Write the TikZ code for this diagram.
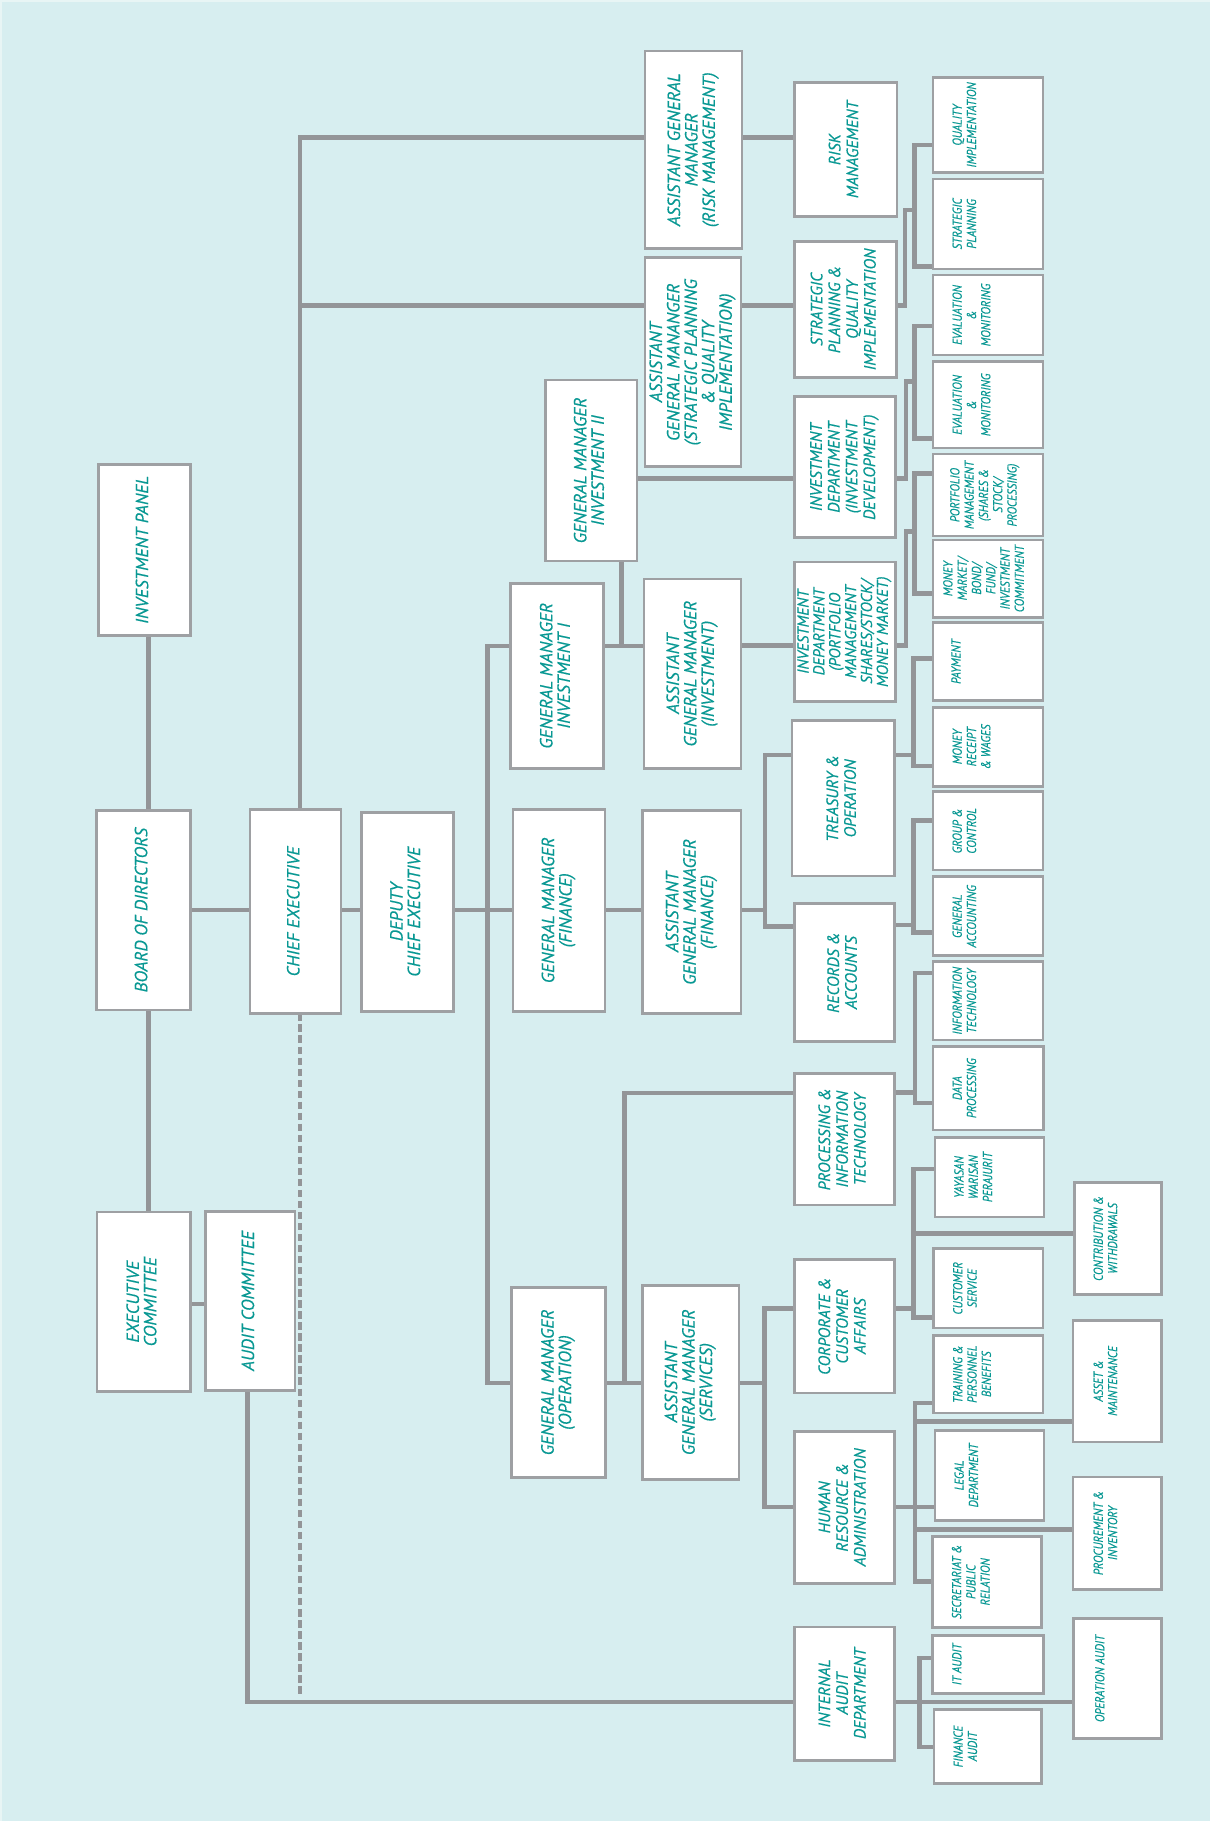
\documentclass[tikz,border=0pt]{standalone}
\usepackage{fontspec}
\usepackage{graphicx}
\newfontfamily\ptA[FakeBold=0.35]{PT Sans}
\newfontfamily\ptF[FakeStretch=0.98,FakeBold=0.35]{PT Sans}
\newfontfamily\ptG[FakeStretch=0.87,FakeBold=0.3]{PT Sans}
\definecolor{bgc}{RGB}{215,238,240}
\definecolor{edgec}{RGB}{232,245,245}
\definecolor{linec}{RGB}{147,149,152}
\definecolor{boxc}{RGB}{158,160,163}
\definecolor{txtc}{RGB}{8,152,147}
\pgfdeclarelayer{bgzero}
\pgfdeclarelayer{lines}
\pgfsetlayers{bgzero,lines,main}
\tikzset{
 bx/.style={draw=boxc, fill=white, line width=2.3pt, inner sep=0pt, outer sep=0pt, text=txtc},
 colA/.style={bx, font=\ptA\itshape\fontsize{15.2}{14}\selectfont},
 colF/.style={bx, font=\ptF\itshape\fontsize{14.2}{15.3}\selectfont},
 colP/.style={bx, font=\ptF\itshape\fontsize{13.6}{13.3}\selectfont},
 colG/.style={bx, font=\ptG\itshape\fontsize{11.2}{12.3}\selectfont},
 ln/.style={draw=linec, line width=4pt},
 dln/.style={draw=linec, line width=3pt, dash pattern=on 6.3pt off 3.2pt},
}
% style, name, x1, y1, x2, y2, text
\newcommand\cbox[7]{%
 \node[#1, minimum width={#5-#3}, minimum height={#6-#4}] (#2) at ({(#3+#5)/2},{(#4+#6)/2})
 {\rotatebox{90}{\begin{tabular}{@{}c@{}}#7\end{tabular}}};}
% style, name, x1, y1, x2, y2, pad, text
\newcommand\lbox[8]{%
 \node[#1, minimum width={#5-#3}, minimum height={#6-#4}] (#2) at ({(#3+#5)/2},{(#4+#6)/2})
 {\makebox[\dimexpr #5pt-#3pt\relax][l]{\hspace*{#7pt}\rotatebox{90}{\begin{tabular}{@{}c@{}}#8\end{tabular}}}};}
\begin{document}
\begin{tikzpicture}[x=1pt,y=-1pt]
\useasboundingbox (0,0) rectangle (1042,1568);
\begin{pgfonlayer}{bgzero}
\fill[bgc] (0,0) rectangle (1042,1568);
\fill[edgec] (0,0) rectangle (1042,1.3);
\fill[edgec] (0,0) rectangle (1.8,1568);
\end{pgfonlayer}
% column A-E
\cbox{colA}{ip}{84.6}{399.7}{164}{547.4}{INVESTMENT PANEL}
\cbox{colA}{bod}{83}{697.6}{164}{869.8}{BOARD OF DIRECTORS}
\cbox{colA}{exc}{83.6}{1043.6}{164}{1198.2}{EXECUTIVE\\COMMITTEE}
\cbox{colA}{ce}{215.3}{697}{293.7}{872.6}{CHIEF EXECUTIVE}
\cbox{colA}{ac}{176.9}{1043.2}{254}{1197.2}{AUDIT COMMITTEE}
\cbox{colA}{dce}{311.2}{699.6}{390.6}{870.7}{DEPUTY\\CHIEF EXECUTIVE}
\cbox{colA}{gm2}{469.6}{327.2}{548.6}{483.1}{GENERAL MANAGER\\INVESTMENT II}
\cbox{colA}{gm1}{439.8}{502.3}{519.9}{661.7}{GENERAL MANAGER\\INVESTMENT I}
\cbox{colA}{gmf}{441.7}{697}{521}{870.7}{GENERAL MANAGER\\(FINANCE)}
\cbox{colA}{gmo}{440.6}{1108.6}{521.3}{1272.2}{GENERAL MANAGER\\(OPERATION)}
\cbox{colA}{agmr}{555.5}{44}{639}{214}{ASSISTANT GENERAL\\MANAGER\\(RISK MANAGEMENT)}
\cbox{colA}{agms}{555.5}{222}{638}{401.9}{ASSISTANT\\GENERAL MANANGER\\(STRATEGIC PLANNING\\\& QUALITY\\IMPLEMENTATION)}
\cbox{colA}{agmi}{554.6}{498.6}{638.1}{661.7}{ASSISTANT\\GENERAL MANAGER\\(INVESTMENT)}
\cbox{colA}{agmf}{553.5}{698}{638}{872.6}{ASSISTANT\\GENERAL MANAGER\\(FINANCE)}
\cbox{colA}{agmsv}{553.2}{1106.6}{636.4}{1274}{ASSISTANT\\GENERAL MANAGER\\(SERVICES)}
% column F
\cbox{colF}{risk}{684}{71}{772.5}{186.6}{RISK\\MANAGEMENT}
\cbox{colF}{spqi}{684}{208}{772}{325}{STRATEGIC\\PLANNING \&\\QUALITY\\IMPLEMENTATION}
\cbox{colF}{invd}{684}{341.6}{771}{463}{INVESTMENT\\DEPARTMENT\\(INVESTMENT\\DEVELOPMENT)}
\cbox{colP}{invp}{684}{484}{771}{604}{INVESTMENT\\DEPARTMENT\\(PORTFOLIO\\MANAGEMENT\\SHARES/STOCK/\\MONEY MARKET)}
\cbox{colF}{tre}{682}{620.6}{770.5}{754.4}{TREASURY \&\\OPERATION}
\cbox{colF}{rec}{684}{778}{770}{897}{RECORDS \&\\ACCOUNTS}
\cbox{colF}{pit}{684}{924.3}{770}{1037.7}{PROCESSING \&\\INFORMATION\\TECHNOLOGY}
\cbox{colF}{cca}{684}{1084.5}{770}{1199.4}{CORPORATE \&\\CUSTOMER\\AFFAIRS}
\cbox{colF}{hr}{684}{1232.4}{770}{1363.5}{HUMAN\\RESOURCE \&\\ADMINISTRATION}
\cbox{colF}{ia}{684}{1400.8}{770}{1515.7}{INTERNAL\\AUDIT\\DEPARTMENT}
% column G
\lbox{colG}{qi}{803.5}{66.6}{898}{148.7}{16}{QUALITY\\IMPLEMENTATION}
\lbox{colG}{sp}{803.5}{154}{898}{231.6}{16}{STRATEGIC\\PLANNING}
\lbox{colG}{em1}{803.5}{236.8}{898}{305.7}{16}{EVALUATION\\\&\\MONITORING}
\lbox{colG}{em2}{803.5}{311.5}{898}{385.8}{16}{EVALUATION\\\&\\MONITORING}
\lbox{colG}{pm}{803.5}{391}{898}{461.6}{14}{PORTFOLIO\\MANAGEMENT\\(SHARES \&\\STOCK/\\PROCESSING)}
\lbox{colG}{mm}{803.5}{465}{898}{531.6}{8}{MONEY\\MARKET/\\BOND/\\FUND/\\INVESTMENT\\COMMITMENT}
\lbox{colG}{pay}{803.5}{536}{898}{603.4}{15}{PAYMENT}
\lbox{colG}{mr}{803.5}{609}{898}{677}{16}{MONEY\\RECEIPT\\\& WAGES}
\lbox{colG}{gc}{803.5}{681.8}{898}{749.2}{16}{GROUP \&\\CONTROL}
\lbox{colG}{ga}{803.5}{755}{898}{823}{16}{GENERAL\\ACCOUNTING}
\lbox{colG}{it}{803.5}{828}{898}{895.6}{16}{INFORMATION\\TECHNOLOGY}
\lbox{colG}{dp}{803.5}{901}{898.5}{973}{16}{DATA\\PROCESSING}
\lbox{colG}{yw}{805}{979.4}{899}{1047.8}{16}{YAYASAN\\WARISAN\\PERAJURIT}
\lbox{colG}{cs}{804}{1075.3}{898}{1143.4}{16}{CUSTOMER\\SERVICE}
\lbox{colG}{tpb}{804}{1150}{898}{1216.6}{16}{TRAINING \&\\PERSONNEL\\BENEFITS}
\lbox{colG}{leg}{805.2}{1232}{899}{1309}{16}{LEGAL\\DEPARTMENT}
\lbox{colG}{sec}{803}{1322.8}{897}{1401.4}{16}{SECRETARIAT \&\\PUBLIC\\RELATION}
\lbox{colG}{ita}{803.2}{1408}{898.5}{1458.3}{16}{IT AUDIT}
\lbox{colG}{fa}{804.3}{1472}{897}{1535.8}{16}{FINANCE\\AUDIT}
% column H
\lbox{colG}{cw}{925}{1018.2}{1000.4}{1114.6}{16}{CONTRIBUTION \&\\WITHDRAWALS}
\lbox{colG}{am}{924}{1136.8}{1000.4}{1241.5}{17}{ASSET \&\\MAINTENANCE}
\lbox{colG}{pi}{924}{1271.7}{1000.4}{1368.4}{17}{PROCUREMENT \&\\INVENTORY}
\lbox{colG}{oa}{924.3}{1393.7}{1000.4}{1497}{18}{OPERATION AUDIT}
% connectors
\begin{pgfonlayer}{lines}
\draw[ln] (ip.south -| 127.6,0) -- (bod.north -| 127.6,0);
\draw[ln] (bod.south -| 127.6,0) -- (exc.north -| 127.6,0);
\draw[ln] (bod.east |- 0,783.7) -- (ce.west |- 0,783.7);
\draw[ln] (ce.east |- 0,783.7) -- (dce.west |- 0,783.7);
\draw[ln] (dce.east |- 0,783.7) -- (gmf.west |- 0,783.7);
\draw[ln] (gm1.west |- 0,556.3) -- (419.8,556.3) -- (419.8,1190.7) -- (gmo.west |- 0,1190.7);
\draw[ln] (agmr.west |- 0,118.6) -- (258.4,118.6) -- (ce.north -| 258.4,0);
\draw[ln] (agms.west |- 0,263.2) -- (258.4,263.2) -- (ce.north -| 258.4,0);
\draw[dln] (ce.south -| 258.4,0) -- (258.4,1460.8);
\draw[ln] (exc.east |- 0,1122.7) -- (ac.west |- 0,1122.7);
\draw[ln] (ac.south -| 213.1,0) -- (213.1,1465.4) -- (ia.west |- 0,1465.4);
\draw[ln] (gm2.east |- 0,412) -- (invd.west |- 0,412);
\draw[ln] (gm2.south -| 535.4,0) -- (535.4,556.3) -- (agmi.west |- 0,556.3);
\draw[ln] (gm1.east |- 0,556.3) -- (agmi.west |- 0,556.3);
\draw[ln] (agmi.east |- 0,556) -- (invp.west |- 0,556);
\draw[ln] (agmr.east |- 0,118.6) -- (risk.west |- 0,118.6);
\draw[ln] (agms.east |- 0,263.2) -- (spqi.west |- 0,263.2);
\draw[ln] (gmf.east |- 0,783.7) -- (agmf.west |- 0,783.7);
\draw[ln] (agmf.east |- 0,783.7) -- (658.8,783.7) |- (tre.west |- 0,650.2);
\draw[ln] (agmf.east |- 0,783.7) -- (658.8,783.7) |- (rec.west |- 0,797.5);
\draw[ln] (gmo.east |- 0,1190.7) -- (agmsv.west |- 0,1190.7);
\draw[ln] (gmo.east |- 0,1190.7) -- (537.7,1190.7) -- (537.7,941) -- (pit.west |- 0,941);
\draw[ln] (agmsv.east |- 0,1190.7) -| (658.2,1126.7) -- (cca.west |- 0,1126.7);
\draw[ln] (agmsv.east |- 0,1190.7) -| (658.2,1297.5) -- (hr.west |- 0,1297.5);
% right brackets
\draw[ln] (spqi.east |- 0,263.2) -| (779.4,180.8) -| (787.4,124.9) -- (qi.west |- 0,124.9);
\draw[ln] (sp.west |- 0,229.6) -| (787.4,180.8);
\draw[ln] (invd.east |- 0,412) -| (780,328.7) -| (787.4,280.7) -- (em1.west |- 0,280.7);
\draw[ln] (em2.west |- 0,377.5) -| (787.4,328.7);
\draw[ln] (invp.east |- 0,556) -| (780,457.9) -| (787.4,407.6) -- (pm.west |- 0,407.6);
\draw[ln] (mm.west |- 0,511) -| (787.4,457.9);
\draw[ln] (tre.east |- 0,650.2) -| (786.6,567) -- (pay.west |- 0,567);
\draw[ln] (tre.east |- 0,650.2) -| (786.6,659.7) -- (mr.west |- 0,659.7);
\draw[ln] (rec.east |- 0,796.6) -| (786.6,706.7) -- (gc.west |- 0,706.7);
\draw[ln] (rec.east |- 0,796.6) -| (786.6,803.2) -- (ga.west |- 0,803.2);
\draw[ln] (pit.east |- 0,940.7) -| (788,837.7) -- (it.west |- 0,837.7);
\draw[ln] (pit.east |- 0,940.7) -| (788,949.6) -- (dp.west |- 0,949.6);
\draw[ln] (cca.east |- 0,1126.7) -| (786.5,1006.7) -- (yw.west |- 0,1006.7);
\draw[ln] (cca.east |- 0,1126.7) -| (786.5,1134.5) -- (cs.west |- 0,1134.5);
\draw[ln] (cw.west |- 0,1062.1) -- (786.5,1062.1);
\draw[ln] (hr.east |- 0,1297.5) -- (leg.west |- 0,1297.5);
\draw[ln] (tpb.west |- 0,1208) -| (788,1362) -- (sec.west |- 0,1362);
\draw[ln] (am.west |- 0,1224) -- (788,1224);
\draw[ln] (pi.west |- 0,1316.8) -- (788,1316.8);
\draw[ln] (ia.east |- 0,1465.4) -- (oa.west |- 0,1465.4);
\draw[ln] (ita.west |- 0,1427.6) -| (791.7,1504.2) -- (fa.west |- 0,1504.2);
\end{pgfonlayer}
\end{tikzpicture}
\end{document}
